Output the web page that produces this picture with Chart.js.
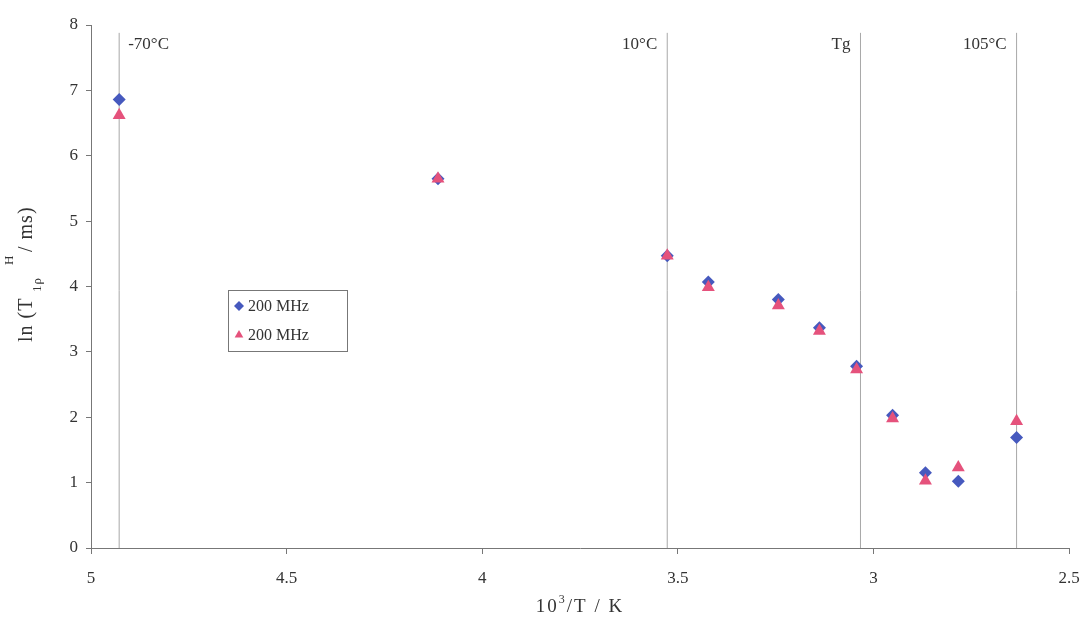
<!DOCTYPE html>
<html>
<head>
<meta charset="utf-8">
<script src="https://cdn.jsdelivr.net/npm/chart.js@4/dist/chart.umd.min.js"></script>
<style>
    html, body { margin: 0; padding: 0; background: #fff; }
    #wrap { width: 1088px; height: 617px; }
</style>
</head>
<body>
<div id="wrap"><canvas id="relax"></canvas></div>
<script>
// 10^3/T values of the measurements
const invTemp = [4.928, 4.113, 3.527, 3.422, 3.243, 3.138, 3.043, 2.951, 2.867, 2.783, 2.634];
const seriesA = [6.86, 5.65, 4.47, 4.07, 3.80, 3.37, 2.78, 2.03, 1.15, 1.02, 1.69];
const seriesB = [6.62, 5.65, 4.47, 3.99, 3.71, 3.32, 2.73, 1.98, 1.03, 1.23, 1.94];
const seriesNames = ['200 MHz', '200 MHz'];

// reference temperatures drawn as vertical lines
const markLines = [4.928, 3.527, 3.033, 2.634];
const markLabels = ['-70°C', '10°C', 'Tg', '105°C'];
const markTop = 7.88;

const xTicks = [5, 4.5, 4, 3.5, 3, 2.5];
const yTicks = [0, 1, 2, 3, 4, 5, 6, 7, 8];

const blue = '#4659be';
const red = '#e5527c';
const textColor = '#333';
const serif = '"Liberation Serif", "DejaVu Serif", serif';

function toPoints(xs, ys) {
    let pts = [];
    for (let i = 0; i < xs.length; i++) {
        pts.push({ x: xs[i], y: ys[i] });
    }
    return pts;
}

let datasets = [];

// vertical marker lines, drawn underneath (highest order is drawn first)
markLines.forEach(function (v) {
    datasets.push({
        type: 'line',
        data: [{ x: v, y: 0 }, { x: v, y: markTop }],
        borderColor: '#a8a8a8',
        borderWidth: 1,
        pointRadius: 0,
        order: 3
    });
});

datasets.push({
    label: seriesNames[0],
    data: toPoints(invTemp, seriesA),
    pointStyle: 'rectRot',
    pointRadius: 6.5,
    backgroundColor: blue,
    borderColor: blue,
    borderWidth: 0,
    order: 2
});
datasets.push({
    label: seriesNames[1],
    data: toPoints(invTemp, seriesB),
    pointStyle: 'triangle',
    pointRadius: 7.5,
    backgroundColor: red,
    borderColor: red,
    borderWidth: 0,
    order: 1
});

// labels, axis titles and the boxed legend
const decorations = {
    id: 'decorations',
    afterDraw(chart) {
        const ctx = chart.ctx;
        const xs = chart.scales.x;
        ctx.save();
        ctx.fillStyle = textColor;
        ctx.font = '17px ' + serif;
        ctx.textBaseline = 'middle';

        // temperature labels beside the vertical lines
        for (let i = 0; i < markLines.length; i++) {
            let px = xs.getPixelForValue(markLines[i]);
            if (i == 0) {
                ctx.textAlign = 'left';
                ctx.fillText(markLabels[i], px + 9, 45);
            } else {
                ctx.textAlign = 'right';
                ctx.fillText(markLabels[i], px - 10, 45);
            }
        }

        // x title: 10^3/T / K
        ctx.textAlign = 'left';
        ctx.letterSpacing = '2px';
        let midX = (chart.chartArea.left + chart.chartArea.right) / 2;
        let a = '10', b = '3', c = '/T / K';
        ctx.font = '19px ' + serif;
        let wa = ctx.measureText(a).width;
        let wc = ctx.measureText(c).width;
        ctx.font = '12px ' + serif;
        let wb = ctx.measureText(b).width;
        let sx = midX - (wa + wb + wc) / 2;
        ctx.font = '19px ' + serif;
        ctx.fillText(a, sx, 607);
        ctx.font = '12px ' + serif;
        ctx.fillText(b, sx + wa, 600);
        ctx.font = '19px ' + serif;
        ctx.fillText(c, sx + wa + wb, 607);
        ctx.letterSpacing = '0px';

        // y title, rotated, with subscript and superscript
        ctx.save();
        ctx.translate(27, 342);
        ctx.rotate(-Math.PI / 2);
        ctx.letterSpacing = '1px';
        let parts = [
            { t: 'ln (T', size: 20, at: 0, dy: 0 },
            { t: '1ρ', size: 13, at: 50, dy: 11 },
            { t: 'H', size: 13, at: 77, dy: -17 },
            { t: '/ ms)', size: 20, at: 90, dy: 0 }
        ];
        parts.forEach(function (p) {
            ctx.font = p.size + 'px ' + serif;
            ctx.fillText(p.t, p.at, p.dy);
        });
        ctx.restore();

        // legend box
        let lx = 228, ly = 290, lw = 119, lh = 61;
        ctx.strokeStyle = '#777';
        ctx.lineWidth = 1;
        ctx.strokeRect(lx + 0.5, ly + 0.5, lw, lh);
        ctx.font = '16px ' + serif;
        ctx.textAlign = 'left';
        let styles = ['rectRot', 'triangle'];
        let cols = [blue, red];
        for (let i = 0; i < 2; i++) {
            let rowY = ly + 16 + i * 29;
            ctx.fillStyle = cols[i];
            ctx.strokeStyle = cols[i];
            Chart.helpers.drawPoint(ctx, { pointStyle: styles[i], radius: 5, borderWidth: 0 }, lx + 11, rowY);
            ctx.fillStyle = textColor;
            ctx.fillText(seriesNames[i], lx + 20, rowY + 1);
        }
        ctx.restore();
    }
};

new Chart(document.getElementById('relax').getContext('2d'), {
    type: 'scatter',
    data: { datasets: datasets },
    plugins: [decorations],
    options: {
        responsive: true,
        maintainAspectRatio: false,
        animation: false,
        layout: { padding: { top: 25, right: 19, left: 0, bottom: 0 } },
        plugins: {
            legend: { display: false },
            tooltip: { enabled: false }
        },
        scales: {
            x: {
                type: 'linear',
                reverse: true,
                min: 2.5,
                max: 5,
                afterBuildTicks: function (s) { s.ticks = xTicks.map(v => ({ value: v })); },
                afterFit: function (s) {
                    s.height = 69;
                    // don't let the end labels push the plot area in
                    s.paddingLeft = 0;
                    s.paddingRight = 0;
                },
                grid: { drawOnChartArea: false, drawTicks: true, tickLength: 6, color: '#777' },
                border: { color: '#777', width: 1 },
                ticks: {
                    color: textColor,
                    padding: 14,
                    maxRotation: 0,
                    font: { family: serif, size: 17 },
                    callback: function (v) { return String(v); }
                }
            },
            y: {
                type: 'linear',
                min: 0,
                max: 8,
                afterBuildTicks: function (s) { s.ticks = yTicks.map(v => ({ value: v })); },
                afterFit: function (s) { s.width = 91; },
                grid: { drawOnChartArea: false, drawTicks: true, tickLength: 5, color: '#777' },
                border: { color: '#777', width: 1 },
                ticks: {
                    color: textColor,
                    padding: 8,
                    font: { family: serif, size: 17 },
                    callback: function (v) { return String(v); }
                }
            }
        }
    }
});
</script>
</body>
</html>
